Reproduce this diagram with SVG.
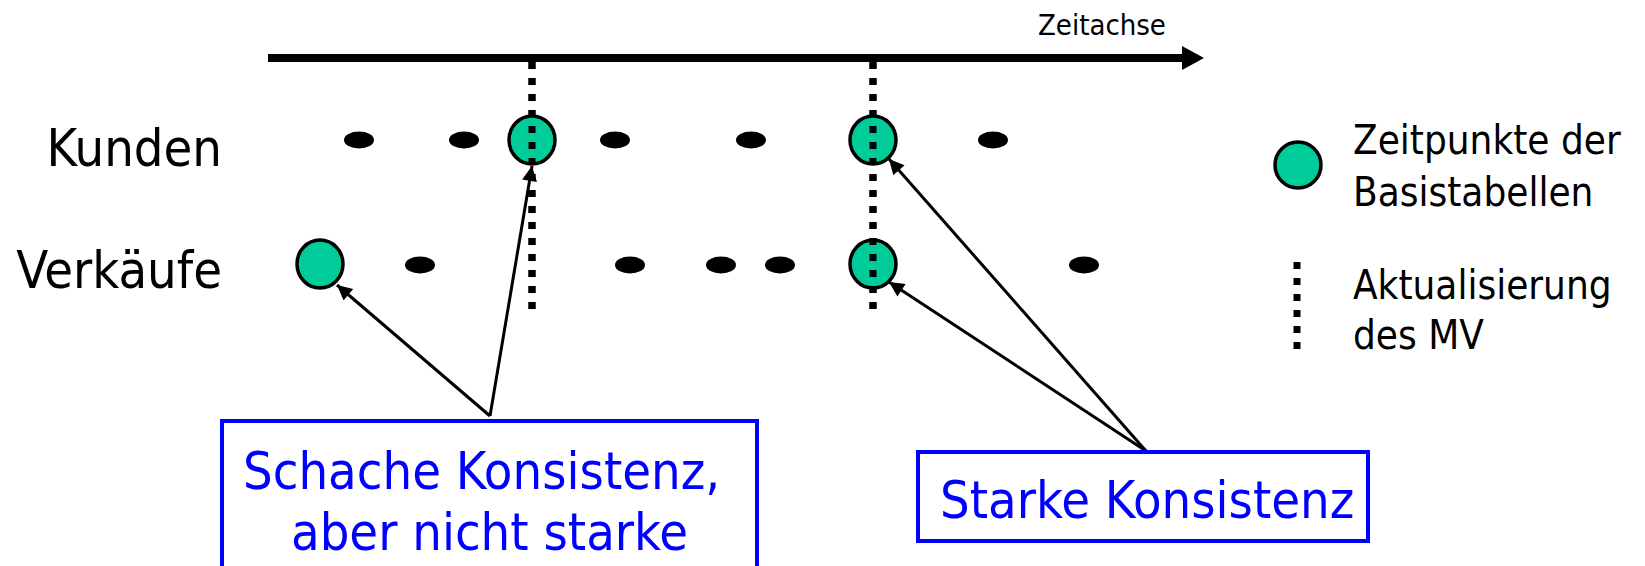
<svg xmlns="http://www.w3.org/2000/svg" width="1645" height="566" viewBox="0 0 1645 566">
  <defs>
    <style>
      text { font-family: "DejaVu Sans Condensed", "DejaVu Sans", sans-serif; fill: #000; }
      .row { font-size: 52px; text-anchor: end; }
      .legend { font-size: 40px; }
      .note { font-size: 52px; fill: #0000ff; }
      .tick { fill: #000; }
      .point { fill: #00cc99; stroke: #000; stroke-width: 3.5; }
      .refresh { stroke: #000; stroke-width: 7; stroke-dasharray: 7 9; fill: none; }
      .link { stroke: #000; stroke-width: 3; fill: none; marker-end: url(#head); }
      .box { fill: #fff; stroke: #0000ff; stroke-width: 4; }
    </style>
    <marker id="head" viewBox="0 0 10 10" refX="10" refY="5" markerWidth="5.5" markerHeight="5" markerUnits="strokeWidth" orient="auto">
      <path d="M0,0 L10,5 L0,10 Z" fill="#000"/>
    </marker>
  </defs>
  <rect width="1645" height="566" fill="#fff"/>

  <!-- time axis -->
  <g id="axis">
    <line x1="268" y1="58" x2="1184" y2="58" stroke="#000" stroke-width="8"/>
    <path d="M1182,46 L1204,58 L1182,70 Z" fill="#000"/>
    <text x="1038" y="35" font-size="29">Zeitachse</text>
  </g>

  <!-- row labels -->
  <g id="label-kunden"><text class="row" x="222" y="166">Kunden</text></g>
  <g id="label-verkaeufe"><text class="row" x="222" y="288">Verkäufe</text></g>

  <!-- update times of the materialized view -->
  <g id="refresh-1"><line class="refresh" x1="532" y1="62" x2="532" y2="310"/></g>
  <g id="refresh-2"><line class="refresh" x1="873" y1="62" x2="873" y2="310"/></g>

  <!-- events in the Kunden table -->
  <g id="kunden-events">
    <ellipse class="tick" cx="359" cy="140" rx="15" ry="8.5"/>
    <ellipse class="tick" cx="464" cy="140" rx="15" ry="8.5"/>
    <ellipse class="tick" cx="615" cy="140" rx="15" ry="8.5"/>
    <ellipse class="tick" cx="751" cy="140" rx="15" ry="8.5"/>
    <ellipse class="tick" cx="993" cy="140" rx="15" ry="8.5"/>
  </g>

  <!-- events in the Verkäufe table -->
  <g id="verkaeufe-events">
    <ellipse class="tick" cx="420" cy="265" rx="15" ry="8.5"/>
    <ellipse class="tick" cx="630" cy="265" rx="15" ry="8.5"/>
    <ellipse class="tick" cx="721" cy="265" rx="15" ry="8.5"/>
    <ellipse class="tick" cx="780" cy="265" rx="15" ry="8.5"/>
    <ellipse class="tick" cx="1084" cy="265" rx="15" ry="8.5"/>
  </g>

  <!-- base table snapshots -->
  <g id="point-k1"><ellipse class="point" cx="532" cy="140" rx="23" ry="24"/></g>
  <g id="point-k2"><ellipse class="point" cx="873" cy="140" rx="23" ry="24"/></g>
  <g id="point-v1"><ellipse class="point" cx="320" cy="264" rx="23" ry="24"/></g>
  <g id="point-v2"><ellipse class="point" cx="873" cy="264" rx="23" ry="24"/></g>

  <!-- redraw dots over snapshot points -->
  <g id="refresh-overlay">
    <line class="refresh" x1="532" y1="62" x2="532" y2="310"/>
    <line class="refresh" x1="873" y1="62" x2="873" y2="310"/>
  </g>

  <!-- connectors -->
  <g id="connectors">
    <line class="link" x1="490" y1="416" x2="337" y2="285"/>
    <line class="link" x1="490" y1="416" x2="532" y2="166"/>
    <line class="link" x1="1146" y1="451" x2="889" y2="159"/>
    <line class="link" x1="1146" y1="451" x2="889" y2="282"/>
  </g>

  <!-- callouts -->
  <g id="note-weak">
    <rect class="box" x="222" y="421" width="535" height="160"/>
    <text class="note" x="243" y="489">Schache Konsistenz,</text>
    <text class="note" x="291" y="550">aber nicht starke</text>
  </g>
  <g id="note-strong">
    <rect class="box" x="918" y="452" width="450" height="89"/>
    <text class="note" x="940" y="518">Starke Konsistenz</text>
  </g>

  <!-- legend -->
  <g id="legend-point">
    <circle class="point" cx="1298" cy="165" r="23"/>
    <text class="legend" x="1353" y="154">Zeitpunkte der</text>
    <text class="legend" x="1353" y="206">Basistabellen</text>
  </g>
  <g id="legend-refresh">
    <line class="refresh" x1="1297" y1="262" x2="1297" y2="352"/>
    <text class="legend" x="1353" y="299">Aktualisierung</text>
    <text class="legend" x="1353" y="349">des MV</text>
  </g>
</svg>
